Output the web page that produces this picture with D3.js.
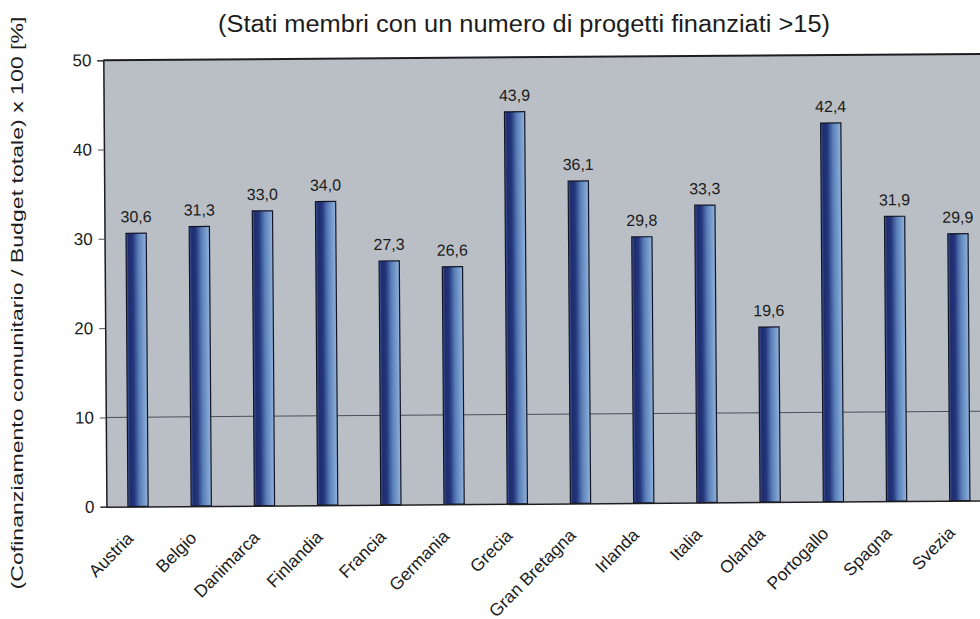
<!DOCTYPE html>
<html>
<head>
<meta charset="utf-8">
<script src="https://cdn.jsdelivr.net/npm/d3@7"></script>
<style>
  html, body { margin: 0; padding: 0; background: #ffffff; }
  svg { display: block; }
  text { font-family: "Liberation Sans", Arial, sans-serif; fill: #1c1c1c; }
</style>
</head>
<body>
<svg id="chart" width="980" height="619"></svg>
<script>
const categories = ["Austria", "Belgio", "Danimarca", "Finlandia", "Francia", "Germania", "Grecia",
  "Gran Bretagna", "Irlanda", "Italia", "Olanda", "Portogallo", "Spagna", "Svezia"];
const values = [30.6, 31.3, 33.0, 34.0, 27.3, 26.6, 43.9, 36.1, 29.8, 33.3, 19.6, 42.4, 31.9, 29.9];
const yTicks = [0, 10, 20, 30, 40, 50];
const gridValues = [10];
const valueLabels = values.map(v => v.toFixed(1).replace(".", ","));
const subtitle = "(Stati membri con un numero di progetti finanziati >15)";
const yTitle = "(Cofinanziamento comunitario / Budget totale) x 100  [%]";

const svg = d3.select("#chart");
const defs = svg.append("defs");
const grad = defs.append("linearGradient").attr("id", "barGrad")
  .attr("x1", 0).attr("x2", 1).attr("y1", 0).attr("y2", 0);
[[0, "#4466a6"], [0.12, "#1f2c6c"], [0.32, "#23357c"], [0.6, "#5a7fb8"], [1, "#90b3dc"]]
  .forEach(([o, c]) => grad.append("stop").attr("offset", o).attr("stop-color", c));

const pLeft = 105, pRight = 990, pTop = 57.5, pBottom = 504;

const g = svg.append("g").attr("transform", "rotate(-0.4 490 300)");

const x = d3.scaleBand().domain(categories).range([pLeft, pRight])
  .paddingInner(0.68).paddingOuter(0.34);
const y = d3.scaleLinear().domain([0, 50]).range([pBottom, pTop]);

// plot background
g.append("rect").attr("x", pLeft).attr("y", pTop)
  .attr("width", pRight - pLeft).attr("height", pBottom - pTop)
  .attr("fill", "#babfc6");

// gridline at 10
g.selectAll("line.grid").data(gridValues).enter().append("line")
  .attr("class", "grid")
  .attr("x1", pLeft).attr("x2", pRight)
  .attr("y1", d => y(d)).attr("y2", d => y(d))
  .attr("stroke", "#4a4f58").attr("stroke-width", 1);

// top border
g.append("line").attr("x1", pLeft).attr("x2", pRight).attr("y1", pTop).attr("y2", pTop)
  .attr("stroke", "#1e1e22").attr("stroke-width", 2);

// bars
g.selectAll("rect.bar").data(values).enter().append("rect")
  .attr("class", "bar")
  .attr("x", (d, i) => x(categories[i]))
  .attr("y", d => y(d))
  .attr("width", x.bandwidth())
  .attr("height", d => y(0) - y(d))
  .attr("fill", "url(#barGrad)")
  .attr("stroke", "#121526").attr("stroke-width", 1.2);

// value labels
g.selectAll("text.val").data(values).enter().append("text")
  .attr("class", "val")
  .attr("x", (d, i) => x(categories[i]) + x.bandwidth() / 2)
  .attr("y", d => y(d) - 11)
  .attr("text-anchor", "middle")
  .attr("font-size", 16)
  .text((d, i) => valueLabels[i]);

// y axis
const yAxis = d3.axisLeft(y).tickValues(yTicks).tickSize(6).tickPadding(6)
  .tickFormat(d3.format("d"));
const ya = g.append("g").attr("transform", `translate(${pLeft},0)`).call(yAxis);
ya.select(".domain").attr("stroke", "#1e1e22").attr("stroke-width", 1.5);
ya.selectAll(".tick line").attr("stroke", "#555");
ya.selectAll(".tick text").attr("font-size", 17).attr("fill", "#1c1c1c")
  .attr("font-family", "'Liberation Sans', Arial, sans-serif");

// x axis baseline
const xAxis = d3.axisBottom(x).tickSize(0).tickFormat("");
const xa = g.append("g").attr("transform", `translate(0,${pBottom})`).call(xAxis);
xa.select(".domain").attr("stroke", "#1e1e22").attr("stroke-width", 1.5);

// x labels
g.selectAll("text.xl").data(categories).enter().append("text")
  .attr("class", "xl")
  .attr("transform", d => `translate(${x(d) + x.bandwidth() / 2 - 4},${pBottom + 33}) rotate(-45)`)
  .attr("text-anchor", "end")
  .attr("font-size", 17.5)
  .text(d => d);

// subtitle
svg.append("text")
  .attr("x", 524).attr("y", 32)
  .attr("text-anchor", "middle")
  .attr("font-size", 23)
  .attr("textLength", 612).attr("lengthAdjust", "spacingAndGlyphs")
  .text(subtitle);

// y title
svg.append("text")
  .attr("transform", "translate(23,303) rotate(-90)")
  .attr("text-anchor", "middle")
  .attr("font-size", 17)
  .attr("fill", "#2a2a2a")
  .attr("textLength", 573).attr("lengthAdjust", "spacingAndGlyphs")
  .text(yTitle);
</script>
</body>
</html>
